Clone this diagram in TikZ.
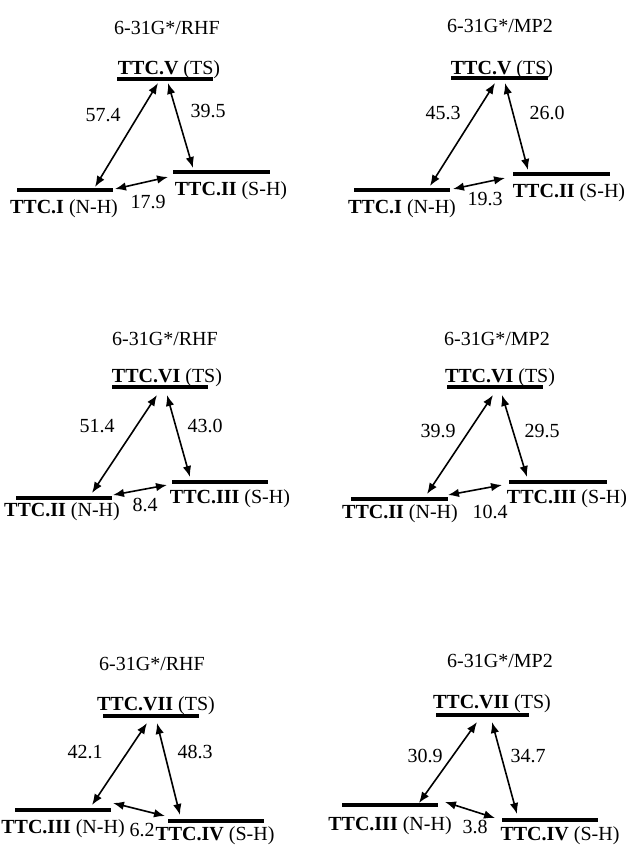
\documentclass[tikz,border=0pt]{standalone}
\usepackage{fontspec}
\setmainfont{Liberation Serif}
\usetikzlibrary{arrows.meta}
\tikzset{
  txt/.style={anchor=base, inner sep=0pt, font=\fontsize{20}{24}\selectfont},
  lbl/.style={txt, font=\fontsize{20}{24}\selectfont},
  level/.style={line width=3.8pt},
  conn/.style={line width=1.6pt, {Latex[length=11pt,width=8.5pt]}-{Latex[length=11pt,width=8.5pt]}}
}
\begin{document}
\begin{tikzpicture}[x=1pt,y=-1pt]
\useasboundingbox (0,0) rectangle (632,845);
% ---------- Panel 1 ----------
\node[txt] (p1t) at (167,35) {6-31G*/RHF};
\node[lbl] (p1ts) at (169,75) {\textbf{TTC.V} (TS)};
\node[lbl] (p1l) at (64,213) {\textbf{TTC.I} (N-H)};
\node[lbl] (p1r) at (231,195) {\textbf{TTC.II} (S-H)};
\coordinate (p1tsa) at (117,79); \coordinate (p1tsb) at (213,79);
\coordinate (p1la) at (17,190); \coordinate (p1lb) at (113,190);
\coordinate (p1ra) at (173,172); \coordinate (p1rb) at (270,172);
\draw[level] (p1tsa) -- (p1tsb); \draw[level] (p1la) -- (p1lb); \draw[level] (p1ra) -- (p1rb);
\coordinate (p1a1) at (95,187); \coordinate (p1a2) at (158,83);
\coordinate (p1b1) at (168,83); \coordinate (p1b2) at (193,168);
\coordinate (p1c1) at (115,189); \coordinate (p1c2) at (168,177);
\draw[conn] (p1a1) -- (p1a2); \draw[conn] (p1b1) -- (p1b2); \draw[conn] (p1c1) -- (p1c2);
\node[txt] (p1n1) at (103,122) {57.4};
\node[txt] (p1n2) at (208,118) {39.5};
\node[txt] (p1n3) at (148,208) {17.9};
% ---------- Panel 2 ----------
\node[txt] (p2t) at (500,33) {6-31G*/MP2};
\node[lbl] (p2ts) at (502,75) {\textbf{TTC.V} (TS)};
\node[lbl] (p2l) at (402,213) {\textbf{TTC.I} (N-H)};
\node[lbl] (p2r) at (569,197) {\textbf{TTC.II} (S-H)};
\coordinate (p2tsa) at (451,78); \coordinate (p2tsb) at (548,78);
\coordinate (p2la) at (354,190); \coordinate (p2lb) at (450,190);
\coordinate (p2ra) at (513,174); \coordinate (p2rb) at (610,174);
\draw[level] (p2tsa) -- (p2tsb); \draw[level] (p2la) -- (p2lb); \draw[level] (p2ra) -- (p2rb);
\coordinate (p2a1) at (430,186); \coordinate (p2a2) at (495,83);
\coordinate (p2b1) at (505,83); \coordinate (p2b2) at (528,170);
\coordinate (p2c1) at (453,189); \coordinate (p2c2) at (505,178);
\draw[conn] (p2a1) -- (p2a2); \draw[conn] (p2b1) -- (p2b2); \draw[conn] (p2c1) -- (p2c2);
\node[txt] (p2n1) at (443,120) {45.3};
\node[txt] (p2n2) at (547,120) {26.0};
\node[txt] (p2n3) at (485,205) {19.3};
% ---------- Panel 3 ----------
\node[txt] (p3t) at (165,345) {6-31G*/RHF};
\node[lbl] (p3ts) at (167,382) {\textbf{TTC.VI} (TS)};
\node[lbl] (p3l) at (62,516) {\textbf{TTC.II} (N-H)};
\node[lbl] (p3r) at (230,503) {\textbf{TTC.III} (S-H)};
\coordinate (p3tsa) at (112,387); \coordinate (p3tsb) at (208,387);
\coordinate (p3la) at (16,498); \coordinate (p3lb) at (112,498);
\coordinate (p3ra) at (172,482); \coordinate (p3rb) at (268,482);
\draw[level] (p3tsa) -- (p3tsb); \draw[level] (p3la) -- (p3lb); \draw[level] (p3ra) -- (p3rb);
\coordinate (p3a1) at (92,493); \coordinate (p3a2) at (157,395);
\coordinate (p3b1) at (167,395); \coordinate (p3b2) at (190,477);
\coordinate (p3c1) at (113,495); \coordinate (p3c2) at (167,485);
\draw[conn] (p3a1) -- (p3a2); \draw[conn] (p3b1) -- (p3b2); \draw[conn] (p3c1) -- (p3c2);
\node[txt] (p3n1) at (97,432) {51.4};
\node[txt] (p3n2) at (205,432) {43.0};
\node[txt] (p3n3) at (145,511) {8.4};
% ---------- Panel 4 ----------
\node[txt] (p4t) at (497,345) {6-31G*/MP2};
\node[lbl] (p4ts) at (500,382) {\textbf{TTC.VI} (TS)};
\node[lbl] (p4l) at (400,518) {\textbf{TTC.II} (N-H)};
\node[lbl] (p4r) at (567,503) {\textbf{TTC.III} (S-H)};
\coordinate (p4tsa) at (447,387); \coordinate (p4tsb) at (543,387);
\coordinate (p4la) at (351,499); \coordinate (p4lb) at (448,499);
\coordinate (p4ra) at (509,482); \coordinate (p4rb) at (607,482);
\draw[level] (p4tsa) -- (p4tsb); \draw[level] (p4la) -- (p4lb); \draw[level] (p4ra) -- (p4rb);
\coordinate (p4a1) at (427,494); \coordinate (p4a2) at (493,395);
\coordinate (p4b1) at (502,395); \coordinate (p4b2) at (527,477);
\coordinate (p4c1) at (448,495); \coordinate (p4c2) at (502,485);
\draw[conn] (p4a1) -- (p4a2); \draw[conn] (p4b1) -- (p4b2); \draw[conn] (p4c1) -- (p4c2);
\node[txt] (p4n1) at (438,437) {39.9};
\node[txt] (p4n2) at (542,437) {29.5};
\node[txt] (p4n3) at (490,518) {10.4};
% ---------- Panel 5 ----------
\node[txt] (p5t) at (152,670) {6-31G*/RHF};
\node[lbl] (p5ts) at (156,710) {\textbf{TTC.VII} (TS)};
\node[lbl] (p5l) at (63,833) {\textbf{TTC.III} (N-H)};
\node[lbl] (p5r) at (215,840) {\textbf{TTC.IV} (S-H)};
\coordinate (p5tsa) at (103,716); \coordinate (p5tsb) at (199,716);
\coordinate (p5la) at (15,810); \coordinate (p5lb) at (111,810);
\coordinate (p5ra) at (168,821); \coordinate (p5rb) at (264,821);
\draw[level] (p5tsa) -- (p5tsb); \draw[level] (p5la) -- (p5lb); \draw[level] (p5ra) -- (p5rb);
\coordinate (p5a1) at (92,805); \coordinate (p5a2) at (147,723);
\coordinate (p5b1) at (157,723); \coordinate (p5b2) at (180,815);
\coordinate (p5c1) at (113,803); \coordinate (p5c2) at (165,816);
\draw[conn] (p5a1) -- (p5a2); \draw[conn] (p5b1) -- (p5b2); \draw[conn] (p5c1) -- (p5c2);
\node[txt] (p5n1) at (85,758) {42.1};
\node[txt] (p5n2) at (195,758) {48.3};
\node[txt] (p5n3) at (142,836) {6.2};
% ---------- Panel 6 ----------
\node[txt] (p6t) at (500,667) {6-31G*/MP2};
\node[lbl] (p6ts) at (492,708) {\textbf{TTC.VII} (TS)};
\node[lbl] (p6l) at (390,830) {\textbf{TTC.III} (N-H)};
\node[lbl] (p6r) at (560,840) {\textbf{TTC.IV} (S-H)};
\coordinate (p6tsa) at (436,715); \coordinate (p6tsb) at (529,715);
\coordinate (p6la) at (342,805); \coordinate (p6lb) at (438,805);
\coordinate (p6ra) at (502,820); \coordinate (p6rb) at (598,820);
\draw[level] (p6tsa) -- (p6tsb); \draw[level] (p6la) -- (p6lb); \draw[level] (p6ra) -- (p6rb);
\coordinate (p6a1) at (419,803); \coordinate (p6a2) at (477,722);
\coordinate (p6b1) at (492,722); \coordinate (p6b2) at (517,814);
\coordinate (p6c1) at (445,802); \coordinate (p6c2) at (495,818);
\draw[conn] (p6a1) -- (p6a2); \draw[conn] (p6b1) -- (p6b2); \draw[conn] (p6c1) -- (p6c2);
\node[txt] (p6n1) at (425,762) {30.9};
\node[txt] (p6n2) at (528,762) {34.7};
\node[txt] (p6n3) at (475,833) {3.8};
\end{tikzpicture}
\end{document}
